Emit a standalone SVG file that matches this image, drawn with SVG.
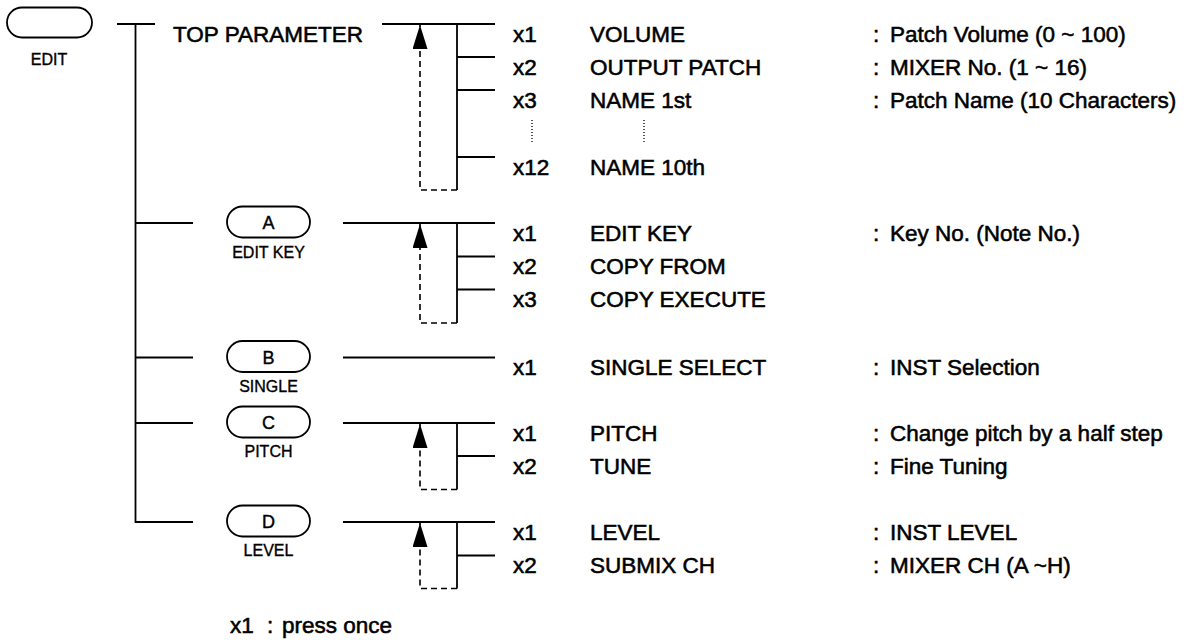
<svg xmlns="http://www.w3.org/2000/svg" width="1189" height="640" viewBox="0 0 1189 640">
<style>
.t{font-family:"Liberation Sans",Arial,sans-serif;font-size:22.5px;fill:#000;stroke:#000;stroke-width:0.55}
.s{font-family:"Liberation Sans",Arial,sans-serif;font-size:16px;fill:#000;stroke:#000;stroke-width:0.35;text-anchor:middle}
.k{font-family:"Liberation Sans",Arial,sans-serif;font-size:18px;fill:#000;stroke:#000;stroke-width:0.4;text-anchor:middle}
.ln{stroke:#000;stroke-width:1.8;fill:none}
.dash{stroke:#000;stroke-width:1.6;fill:none;stroke-dasharray:6 4;marker-end:url(#ah)}
.btn{fill:#fff;stroke:#000;stroke-width:1.8}
.dot{stroke:#000;stroke-width:1.3;stroke-dasharray:1 2;fill:none}
</style>
<defs>
<marker id="ah" markerUnits="userSpaceOnUse" markerWidth="24" markerHeight="15" refX="24" refY="7.5" orient="auto">
<path d="M0,0 L24,7.5 L0,15 Z" fill="#000" stroke="none"/>
</marker>
</defs>

<g id="connectors">
<path class="ln" d="M117,24 H155 M135.5,24 V522 H193"/>
<path class="ln" d="M135.5,223 H193 M135.5,357.5 H193 M135.5,423 H193"/>
<path class="ln" d="M382,24 H495 M457,24 V190 M457,57 H495 M457,90 H495 M457,157 H495"/>
<path class="dash" d="M457,190 H420 V25"/>
<path class="ln" d="M343,223 H495 M457,223 V323 M457,256.5 H495 M457,289.5 H495"/>
<path class="dash" d="M457,323 H420 V224"/>
<path class="ln" d="M343,357.5 H495"/>
<path class="ln" d="M343,423 H495 M457,423 V489.5 M457,456 H495"/>
<path class="dash" d="M457,489.5 H420 V424"/>
<path class="ln" d="M343,522 H495 M457,522 V588.5 M457,555.5 H495"/>
<path class="dash" d="M457,588.5 H420 V523"/>
<path class="dot" d="M532,120 V142 M644,120 V142"/>
</g>

<g id="edit">
<rect class="btn" x="7" y="7.5" width="85" height="30" rx="15"/>
<text class="s" x="49" y="65">EDIT</text>
</g>

<g id="top-parameter">
<text class="t" x="173" y="41.5">TOP PARAMETER</text>
</g>

<g id="btn-a">
<rect class="btn" x="227" y="206.5" width="83" height="31" rx="15.5"/>
<text class="k" x="268.5" y="229">A</text>
<text class="s" x="268.5" y="258">EDIT KEY</text>
</g>
<g id="btn-b">
<rect class="btn" x="227" y="341" width="83" height="31" rx="15.5"/>
<text class="k" x="268.5" y="363.5">B</text>
<text class="s" x="268.5" y="391.5">SINGLE</text>
</g>
<g id="btn-c">
<rect class="btn" x="227" y="406.5" width="83" height="31" rx="15.5"/>
<text class="k" x="268.5" y="429">C</text>
<text class="s" x="268.5" y="456.5">PITCH</text>
</g>
<g id="btn-d">
<rect class="btn" x="227" y="505.5" width="83" height="31" rx="15.5"/>
<text class="k" x="268.5" y="528">D</text>
<text class="s" x="268.5" y="556">LEVEL</text>
</g>

<g id="rows-top">
<text class="t" x="513" y="41.5">x1</text><text class="t" x="590" y="41.5">VOLUME</text><text class="t" x="873" y="41.5">:</text><text class="t" x="890" y="41.5">Patch Volume (0 ~ 100)</text>
<text class="t" x="513" y="74.5">x2</text><text class="t" x="590" y="74.5">OUTPUT PATCH</text><text class="t" x="873" y="74.5">:</text><text class="t" x="890" y="74.5">MIXER No. (1 ~ 16)</text>
<text class="t" x="513" y="107.5">x3</text><text class="t" x="590" y="107.5">NAME 1st</text><text class="t" x="873" y="107.5">:</text><text class="t" x="890" y="107.5">Patch Name (10 Characters)</text>
<text class="t" x="513" y="174.5">x12</text><text class="t" x="590" y="174.5">NAME 10th</text>
</g>

<g id="rows-a">
<text class="t" x="513" y="240.5">x1</text><text class="t" x="590" y="240.5">EDIT KEY</text><text class="t" x="873" y="240.5">:</text><text class="t" x="890" y="240.5">Key No. (Note No.)</text>
<text class="t" x="513" y="274">x2</text><text class="t" x="590" y="274">COPY FROM</text>
<text class="t" x="513" y="307">x3</text><text class="t" x="590" y="307">COPY EXECUTE</text>
</g>

<g id="rows-b">
<text class="t" x="513" y="375">x1</text><text class="t" x="590" y="375">SINGLE SELECT</text><text class="t" x="873" y="375">:</text><text class="t" x="890" y="375">INST Selection</text>
</g>

<g id="rows-c">
<text class="t" x="513" y="440.5">x1</text><text class="t" x="590" y="440.5">PITCH</text><text class="t" x="873" y="440.5">:</text><text class="t" x="890" y="440.5">Change pitch by a half step</text>
<text class="t" x="513" y="473.5">x2</text><text class="t" x="590" y="473.5">TUNE</text><text class="t" x="873" y="473.5">:</text><text class="t" x="890" y="473.5">Fine Tuning</text>
</g>

<g id="rows-d">
<text class="t" x="513" y="539.5">x1</text><text class="t" x="590" y="539.5">LEVEL</text><text class="t" x="873" y="539.5">:</text><text class="t" x="890" y="539.5">INST LEVEL</text>
<text class="t" x="513" y="573">x2</text><text class="t" x="590" y="573">SUBMIX CH</text><text class="t" x="873" y="573">:</text><text class="t" x="890" y="573">MIXER CH (A ~H)</text>
</g>

<g id="legend">
<text class="t" x="230" y="633">x1</text><text class="t" x="267" y="633">:</text><text class="t" x="282" y="633">press once</text>
</g>
</svg>
